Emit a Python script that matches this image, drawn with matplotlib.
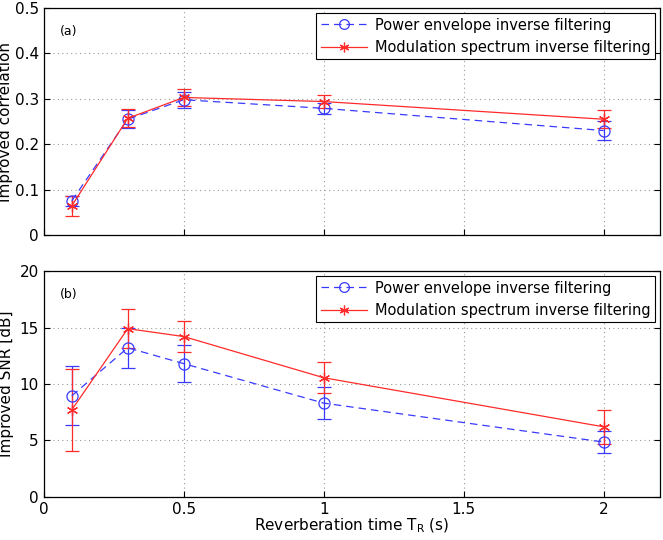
import matplotlib
matplotlib.use("Agg")
import matplotlib.pyplot as plt
from matplotlib.lines import Line2D
import numpy as np

# reverberation times (s)
t_r = [0.1, 0.3, 0.5, 1.0, 2.0]

# (a) improved correlation
corr_pe     = [0.075, 0.255, 0.298, 0.279, 0.230]
corr_pe_err = [0.011, 0.020, 0.018, 0.012, 0.021]
corr_ms     = [0.064, 0.257, 0.303, 0.294, 0.255]
corr_ms_err = [0.022, 0.020, 0.019, 0.015, 0.020]

# (b) improved SNR (dB)
snr_pe     = [8.95, 13.2, 11.8, 8.3, 4.85]
snr_pe_err = [2.6, 1.8, 1.65, 1.45, 1.0]
snr_ms     = [7.7, 14.9, 14.2, 10.55, 6.2]
snr_ms_err = [3.6, 1.7, 1.35, 1.35, 1.5]

labels = ["Power envelope inverse filtering",
          "Modulation spectrum inverse filtering"]

BLUE = "#3a3aff"
RED  = "#ff2a2a"
ASTERISK = (6, 2, 0)
DASH = (0, (6, 4))

plt.rcParams["font.family"] = "DejaVu Sans"
plt.rcParams["font.size"] = 11

fig = plt.figure(figsize=(6.63, 5.40), dpi=100)
ax1 = fig.add_axes([0.066, 0.565, 0.929, 0.420])
ax2 = fig.add_axes([0.066, 0.080, 0.929, 0.418])


def draw_panel(ax, y_pe, e_pe, y_ms, e_ms, ylim, yticks, tag):
    ax.errorbar(t_r, y_pe, yerr=e_pe, color=BLUE, linestyle=DASH,
                linewidth=0.9, marker="o", markersize=8, markerfacecolor="none",
                markeredgewidth=0.9, capsize=5, elinewidth=0.9, capthick=0.9)
    ax.errorbar(t_r, y_ms, yerr=e_ms, color=RED, linestyle="-",
                linewidth=0.9, marker=ASTERISK, markersize=8,
                markeredgewidth=0.9, capsize=5, elinewidth=0.9, capthick=0.9)
    ax.set_xlim(0, 2.2)
    ax.set_ylim(*ylim)
    ax.set_xticks([0, 0.5, 1, 1.5, 2])
    ax.set_yticks(yticks)
    ax.grid(True, color="#9a9a9a", linestyle=(0, (1, 3)), linewidth=0.8)
    ax.tick_params(direction="in", length=4, top=False, right=True, labelsize=11)
    for s in ax.spines.values():
        s.set_linewidth(0.9)
    ax.text(0.026, 0.895, tag, transform=ax.transAxes, fontsize=9, va="center")
    handles = [
        Line2D([], [], color=BLUE, linestyle=DASH, linewidth=0.9, marker="o",
               markersize=7, markerfacecolor="none", markeredgewidth=0.9),
        Line2D([], [], color=RED, linestyle="-", linewidth=0.9,
               marker=ASTERISK, markersize=7, markeredgewidth=0.9),
    ]
    leg = ax.legend(handles, labels, loc="upper right", fontsize=10.5,
                    fancybox=False, edgecolor="black", framealpha=1,
                    borderaxespad=0.35, handlelength=3.2, handletextpad=0.5,
                    borderpad=0.3, labelspacing=0.5)
    leg.get_frame().set_linewidth(0.8)


draw_panel(ax1, corr_pe, corr_pe_err, corr_ms, corr_ms_err,
           (0, 0.5), [0, 0.1, 0.2, 0.3, 0.4, 0.5], "(a)")
ax1.set_xticklabels([])
ax1.set_yticklabels(["0", "0.1", "0.2", "0.3", "0.4", "0.5"])
ax1.set_ylabel("Improved correlation", labelpad=1)

draw_panel(ax2, snr_pe, snr_pe_err, snr_ms, snr_ms_err,
           (0, 20), [0, 5, 10, 15, 20], "(b)")
ax2.set_xticklabels(["0", "0.5", "1", "1.5", "2"])
ax2.set_ylabel("Improved SNR [dB]", labelpad=4)
ax2.set_xlabel("Reverberation time T$_\\mathregular{R}$ (s)", labelpad=0)

fig.savefig("out.png", dpi=100)
